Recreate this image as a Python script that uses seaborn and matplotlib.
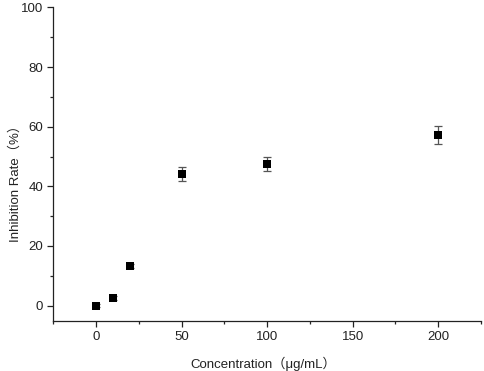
import matplotlib
matplotlib.use("Agg")
import matplotlib.pyplot as plt
import seaborn as sns
import pandas as pd
from matplotlib.ticker import MultipleLocator

conc = [0, 10, 20, 50, 100, 200]
rate = [0.0, 2.5, 13.4, 44.2, 47.5, 57.3]
err = [0.5, 0.6, 0.7, 2.3, 2.5, 3.0]

df = pd.DataFrame({"conc": conc, "rate": rate, "err": err})

sns.set_style("ticks")
plt.rcParams['font.family'] = ['Liberation Sans', 'Noto Sans CJK SC', 'DejaVu Sans']

fig = plt.figure(figsize=(4.84, 3.71), dpi=100)
ax = fig.add_axes([0.1105, 0.136, 0.883, 0.844])

ax.errorbar(df["conc"], df["rate"], yerr=df["err"], fmt="none",
            ecolor="#555555", elinewidth=0.9, capsize=3, capthick=0.9, zorder=2)
sns.scatterplot(data=df, x="conc", y="rate", marker="s", color="black",
                s=28, edgecolor="black", linewidth=0, ax=ax, zorder=3)

ax.set_xlim(-25, 225)
ax.set_ylim(-5, 100)
ax.xaxis.set_major_locator(MultipleLocator(50))
ax.xaxis.set_minor_locator(MultipleLocator(25))
ax.yaxis.set_major_locator(MultipleLocator(20))
ax.yaxis.set_minor_locator(MultipleLocator(10))
ax.tick_params(which="major", direction="out", length=4, width=0.9, labelsize=9.5,
               colors="#222222", pad=3.5)
ax.tick_params(which="minor", direction="out", length=2.5, width=0.9)

for s in ["top", "right"]:
    ax.spines[s].set_visible(False)
for s in ["left", "bottom"]:
    ax.spines[s].set_linewidth(0.9)
    ax.spines[s].set_color("#222222")

ax.set_xlabel("Concentration（μg/mL）", fontsize=9.5, color="#222222")
ax.set_ylabel("Inhibition Rate（%）", fontsize=9.5, color="#222222")
ax.xaxis.set_label_coords(0.49, -0.115)
ax.yaxis.set_label_coords(-0.074, 0.448)

fig.savefig("out.png", dpi=100)
